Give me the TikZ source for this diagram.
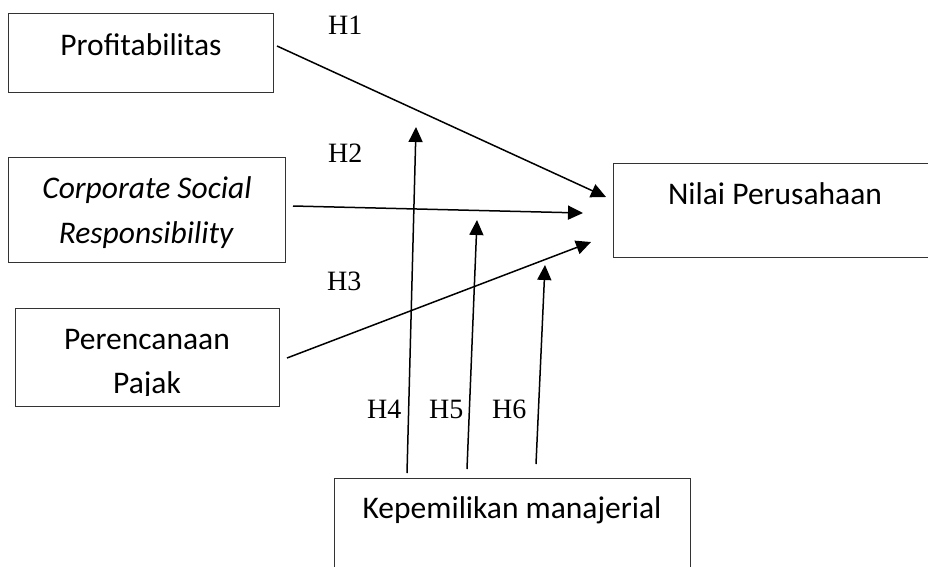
\documentclass[tikz,border=0pt]{standalone}
\usepackage{fontspec}
\setmainfont{Carlito}
\newfontfamily\hfont{Liberation Serif}
\usetikzlibrary{arrows.meta}
\begin{document}
\begin{tikzpicture}[x=1pt,y=-1pt,
  boxframe/.style={draw=black!80,line width=1.1pt},
  boxtext/.style={anchor=base,inner sep=0pt,font=\fontsize{31.5}{44}\selectfont},
  hlabel/.style={anchor=base west,inner sep=0pt,font=\hfont\fontsize{28}{30}\selectfont},
  arr/.style={line width=1.5pt,-{Triangle[length=15pt,width=14pt]}}]
\useasboundingbox (0,0) rectangle (928,566);
\clip (0,0) rectangle (928,566);
% boxes
\node[boxframe,minimum width=265pt,minimum height=79pt,anchor=north west,inner sep=0pt] (prof) at (8,13) {};
\node[boxframe,minimum width=277pt,minimum height=105pt,anchor=north west,inner sep=0pt] (csr) at (8,157) {};
\node[boxframe,minimum width=264pt,minimum height=98pt,anchor=north west,inner sep=0pt] (pajak) at (15,308) {};
\node[boxframe,minimum width=330pt,minimum height=94pt,anchor=north west,inner sep=0pt] (nilai) at (613,163) {};
\node[boxframe,minimum width=356pt,minimum height=110pt,anchor=north west,inner sep=0pt] (kep) at (334,478) {};
% texts
\node[boxtext] (tprof) at (141,55) {Profitabilitas};
\node[boxtext] (tcsr1) at (147,198) {\itshape Corporate Social};
\node[boxtext] (tcsr2) at (146,243) {\itshape Responsibility};
\begin{scope}
\clip (0,300) rectangle (300,395);
\node[boxtext] (tpaj1) at (147,349) {Perencanaan};
\node[boxtext] (tpaj2) at (147,393) {Pajak};
\end{scope}
\node[boxtext] (tnilai) at (775,204) {Nilai Perusahaan};
\node[boxtext] (tkep) at (512,518) {Kepemilikan manajerial};
% connector end points
\coordinate (h1s) at (277,46);  \coordinate (h1e) at (606,197);
\coordinate (h2s) at (293,206); \coordinate (h2e) at (583,213);
\coordinate (h3s) at (287,358); \coordinate (h3e) at (591,242);
\coordinate (h4s) at (407,473); \coordinate (h4e) at (416,127);
\coordinate (h5s) at (467,469); \coordinate (h5e) at (477,220);
\coordinate (h6s) at (536,464); \coordinate (h6e) at (545,265);
\draw[arr] (h1s) -- (h1e);
\draw[arr] (h2s) -- (h2e);
\draw[arr] (h3s) -- (h3e);
\draw[arr] (h4s) -- (h4e);
\draw[arr] (h5s) -- (h5e);
\draw[arr] (h6s) -- (h6e);
% labels
\node[hlabel] (l1) at (328,34) {H1};
\node[hlabel] (l2) at (328,162) {H2};
\node[hlabel] (l3) at (327,290) {H3};
\node[hlabel] (l4) at (367,418) {H4};
\node[hlabel] (l5) at (429,418) {H5};
\node[hlabel] (l6) at (492,418) {H6};
\end{tikzpicture}
\end{document}
